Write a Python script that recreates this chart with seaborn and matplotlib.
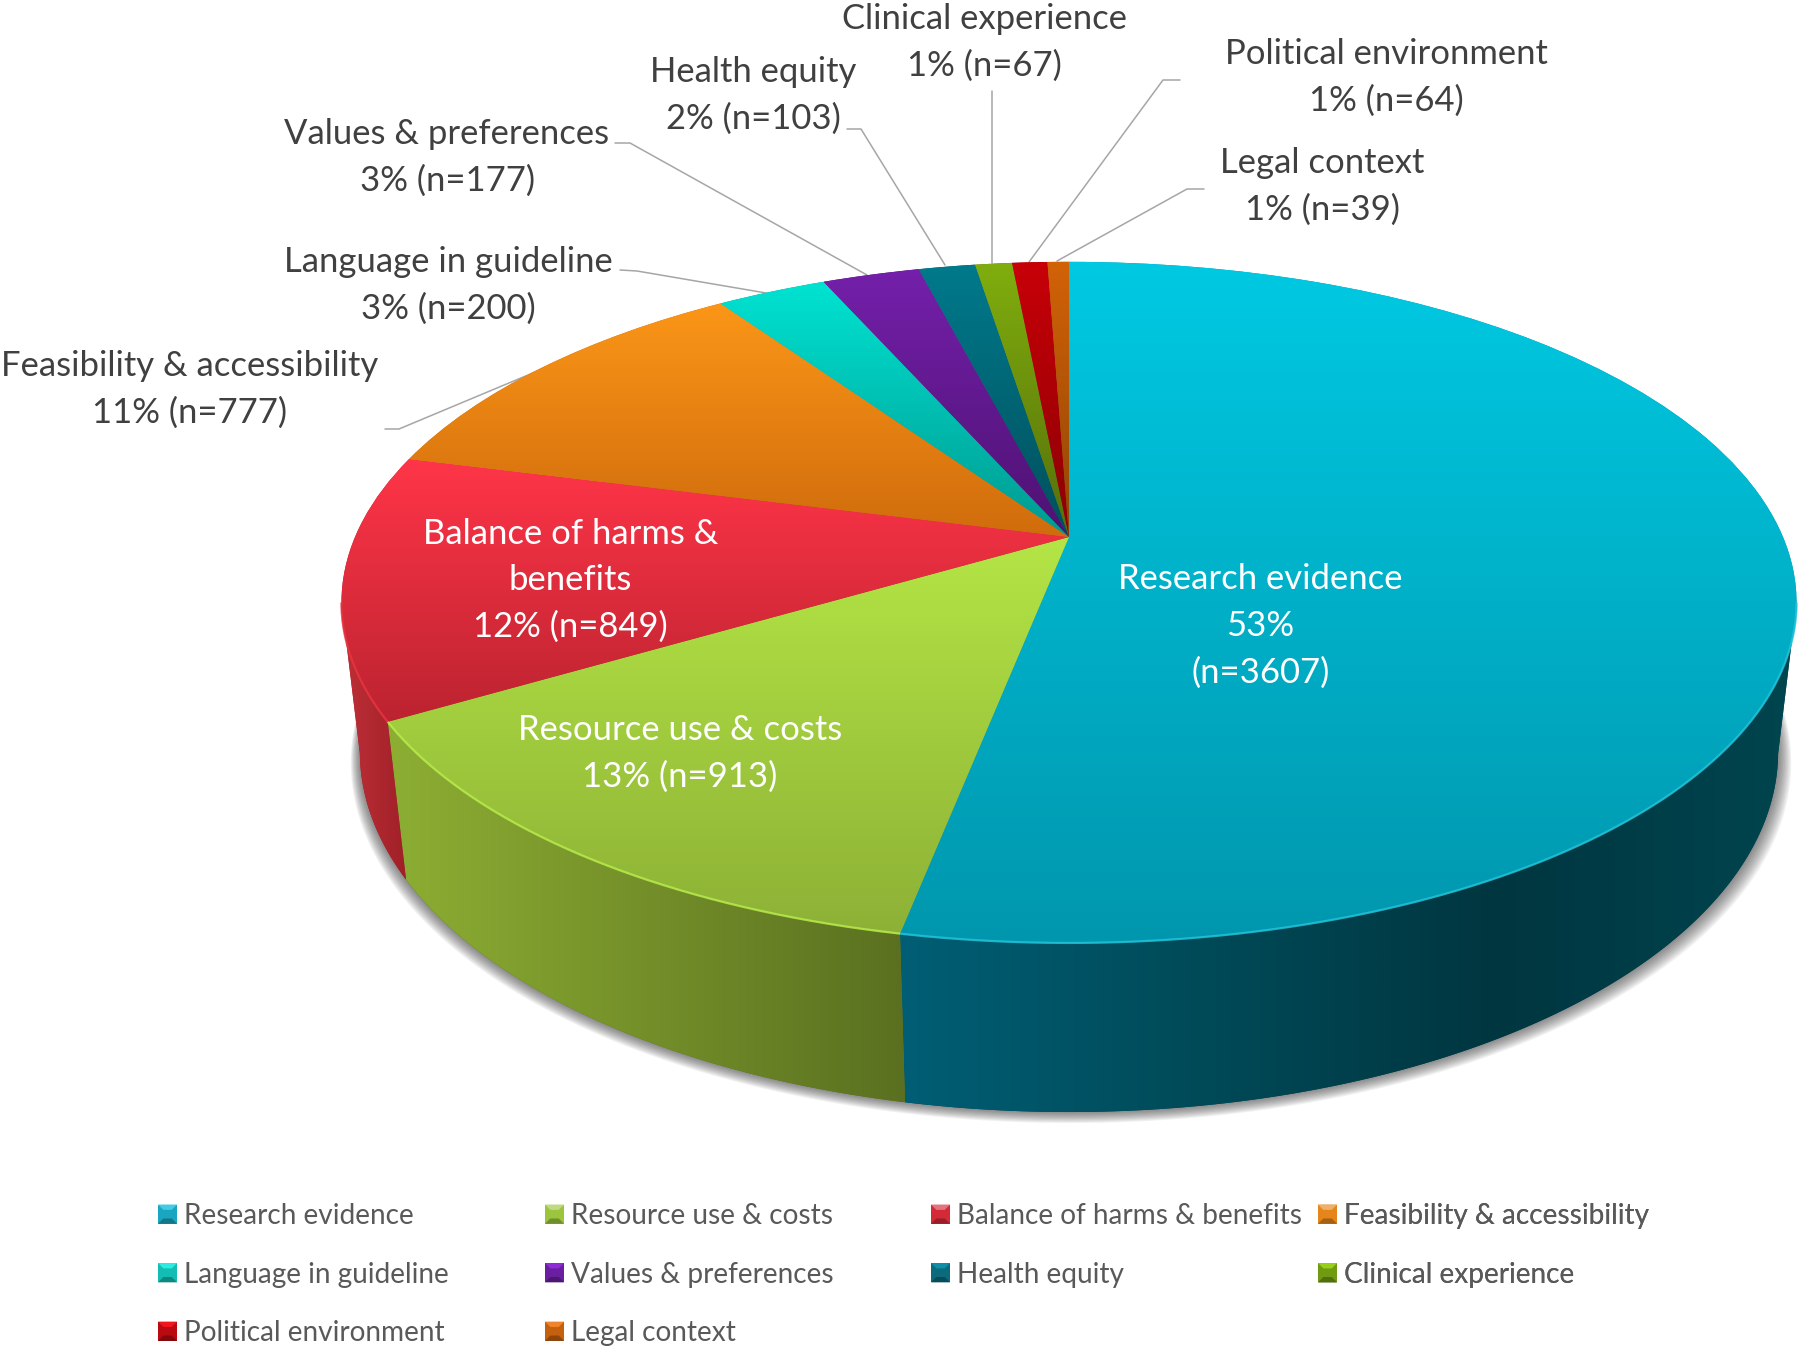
import numpy as np
import matplotlib
matplotlib.use("Agg")
import matplotlib.pyplot as plt
import matplotlib.transforms as mtransforms
from matplotlib.legend_handler import HandlerBase
from matplotlib.patches import Patch, Polygon, Rectangle
import seaborn as sns

# ---------- data ----------
categories = ["Research evidence", "Resource use & costs", "Balance of harms & benefits",
              "Feasibility & accessibility", "Language in guideline", "Values & preferences",
              "Health equity", "Clinical experience", "Political environment", "Legal context"]
counts = [3607, 913, 849, 777, 200, 177, 103, 67, 64, 39]
percents = [53, 13, 12, 11, 3, 3, 2, 1, 1, 1]

# ---------- styles ----------
top_start = ["#00C9E2", "#B4E545", "#FF3548", "#FB9618", "#00E3D2",
             "#7420AA", "#007A8C", "#80AE0E", "#C80008", "#D26208"]
top_end = ["#0097AE", "#8DB136", "#BC2330", "#D06C0C", "#009A90",
           "#4E1272", "#004F5C", "#566F0A", "#8A0004", "#904504"]
wall_stops = {0: ["#005E74", "#004A58", "#003640", "#00454F"],
              1: ["#8DAE33", "#5A7020"],
              2: ["#C03038", "#A02028"]}
rim = {0: "#22C4DA", 1: "#B8EC4C", 2: "#E8343F"}
legend_face = ["#1AA5C0", "#9BC53D", "#D42A38", "#E5851A", "#12BDB4",
               "#6A1FA0", "#0B6A7C", "#6F9A12", "#B80A10", "#C4600E"]

sns.set_theme(style="white")
FONT = ["Lato", "DejaVu Sans"]
plt.rcParams["font.family"] = FONT

W, H = 1800, 1346
CX, CY = 1069.0, 537.0      # vertex of the pie on the canvas
A, B = 714.0, 328.0         # half axes before perspective
K = 0.192                   # perspective along depth
DROP, M = 151.0, 0.025      # height of the wall and its perspective


def project(u, v, z=0.0):
    w = 1 + K * v + M * z
    return CX + A * u / w, CY + (-B * v + DROP * z) / w


class PieProjection(mtransforms.Transform):
    input_dims = output_dims = 2
    has_inverse = False
    is_separable = False

    def transform_non_affine(self, values):
        values = np.asarray(values, dtype=float)
        x, y = project(values[:, 0], values[:, 1])
        return np.column_stack([x, y])


def gradient(colors, vertical=True, n=128):
    pal = np.array(sns.blend_palette(colors, n_colors=n))[:, :3]
    return pal[:, None, :] if vertical else pal[None, :, :]


fig = plt.figure(figsize=(W / 100, H / 100), dpi=100, facecolor="white")
ax = fig.add_axes([0, 0, 1, 1])

wedges, _ = ax.pie(counts, startangle=90, counterclock=False, radius=1,
                   colors=top_end, wedgeprops={"linewidth": 0})
ax.set_aspect("auto")
ax.set_xlim(0, W)
ax.set_ylim(H, 0)
ax.axis("off")

proj = PieProjection()
phi_right = -np.degrees(np.arcsin(K))
phi_left = -180 + np.degrees(np.arcsin(K))

# soft shadow under the body
ring = np.radians(np.linspace(0, 360, 361))
for e in range(1, 11):
    bx, by = project(np.cos(ring), np.sin(ring), 1.0)
    bx = CX + (bx - CX) * (1 + e / 640) + 0.2 * e
    by = by + e * 1.1
    ax.fill(bx, by, color="#303030", alpha=0.07, lw=0, zorder=0.8)

# side walls, only where they face the viewer
for i, wedge in enumerate(wedges):
    lo = max(wedge.theta1, phi_left)
    hi = min(wedge.theta2, phi_right)
    if hi <= lo:
        continue
    phi = np.radians(np.linspace(hi, lo, 160))
    xt, yt = project(np.cos(phi), np.sin(phi), 0.0)
    xb, yb = project(np.cos(phi), np.sin(phi), 1.0)
    poly = Polygon(np.column_stack([np.r_[xt, xb[::-1]], np.r_[yt, yb[::-1]]]),
                   closed=True, fc=wall_stops[i][-1], ec="none", zorder=1)
    ax.add_patch(poly)
    x0, x1 = min(xt.min(), xb.min()), max(xt.max(), xb.max())
    y0, y1 = min(yt.min(), yb.min()), max(yt.max(), yb.max())
    im = ax.imshow(gradient(wall_stops[i], vertical=False), extent=(x0, x1, y1, y0),
                   origin="upper", aspect="auto", interpolation="bilinear", zorder=1.1)
    im.set_clip_path(poly)

# top surface: the pie's own wedges pushed through the perspective
for i, wedge in enumerate(wedges):
    wedge.set_transform(proj + ax.transData)
    wedge.set_zorder(2)
    box = proj.transform_path(wedge.get_path()).get_extents()
    im = ax.imshow(gradient([top_start[i], top_end[i]]),
                   extent=(box.x0, box.x1, box.y1, box.y0), origin="upper",
                   aspect="auto", interpolation="bilinear", zorder=2.1)
    im.set_clip_path(wedge)

# light rim along the front edge
for i, wedge in enumerate(wedges):
    lo = max(wedge.theta1, phi_left)
    hi = min(wedge.theta2, phi_right)
    if hi <= lo:
        continue
    phi = np.radians(np.linspace(hi, lo, 160))
    xt, yt = project(np.cos(phi), np.sin(phi), 0.0)
    ax.plot(xt, yt, color=rim[i], lw=1.6, alpha=0.85, zorder=2.3, solid_capstyle="butt")

ax.set_xlim(0, W)
ax.set_ylim(H, 0)

# leader lines
leaders = [
    [(385, 429), (399, 429), (540, 370)],
    [(620, 270), (637, 271), (766, 293)],
    [(615, 143), (630, 143), (867, 275)],
    [(847, 129), (861, 129), (945, 265)],
    [(991.5, 91), (991.5, 263)],
    [(1180, 80), (1163, 80), (1029, 262)],
    [(1204, 189), (1187, 189), (1057, 261)],
]
for pts in leaders:
    xs, ys = zip(*pts)
    ax.plot(xs, ys, color="#A6A6A6", lw=1.1, zorder=0.7)

# data labels
LABEL_PT = 24.9
labels = [f"{c}\n{p}% (n={n})" for c, p, n in zip(categories, percents, counts)]
labels[0] = f"{categories[0]}\n{percents[0]}%\n(n={counts[0]})"
labels[2] = f"Balance of harms &\nbenefits\n{percents[2]}% (n={counts[2]})"
label_xy = [(1260.5, 626), (680, 753), (570.6, 580.6), (189.5, 389.5), (448, 285),
            (447, 157), (753, 95.6), (984, 42.8), (1386, 77), (1322, 186)]
for i, (txt, (lx, ly)) in enumerate(zip(labels, label_xy)):
    ax.text(lx, ly, txt, ha="center", va="center", fontsize=LABEL_PT, linespacing=1.56,
            color="white" if i < 3 else "#404040", zorder=5, family=FONT)


# legend, with a small bevelled swatch
class BevelHandler(HandlerBase):
    def create_artists(self, legend, handle, xd, yd, width, height, fontsize, trans):
        face = handle.get_facecolor()
        lum = sns.utils.colorsys.rgb_to_hls(*face[:3])[1]
        light = sns.set_hls_values(face[:3], l=min(1, lum * 1.35))
        dark = sns.set_hls_values(face[:3], l=lum * 0.72)
        x0, y0 = -xd, -yd
        inset = width * 0.28
        rect = Rectangle((x0, y0), width, height, fc=face, ec="none", transform=trans)
        cap = Polygon([(x0, y0 + height), (x0 + width, y0 + height),
                       (x0 + width - inset, y0 + height - inset), (x0 + inset, y0 + height - inset)],
                      closed=True, fc=light, ec="none", transform=trans)
        base = Polygon([(x0, y0), (x0 + width, y0), (x0 + width - inset, y0 + inset), (x0 + inset, y0 + inset)],
                       closed=True, fc=dark, ec="none", transform=trans)
        return [rect, cap, base]


column_x = [158, 545, 931, 1318]
legend_top = 1203
LEG_PT = 20.2
for col, lx in enumerate(column_x):
    idx = list(range(col, len(categories), len(column_x)))
    handles = [Patch(facecolor=legend_face[j]) for j in idx]
    leg = ax.legend(handles, [categories[j] for j in idx],
                    handler_map={Patch: BevelHandler()},
                    loc="upper left", bbox_to_anchor=(lx, legend_top),
                    bbox_transform=ax.transData, frameon=False, fontsize=LEG_PT,
                    handlelength=0.68, handleheight=0.68, handletextpad=0.24,
                    labelspacing=1.16, borderpad=0, borderaxespad=0,
                    labelcolor="#595959")
    ax.add_artist(leg)

fig.savefig("out.png", dpi=100, facecolor="white")
